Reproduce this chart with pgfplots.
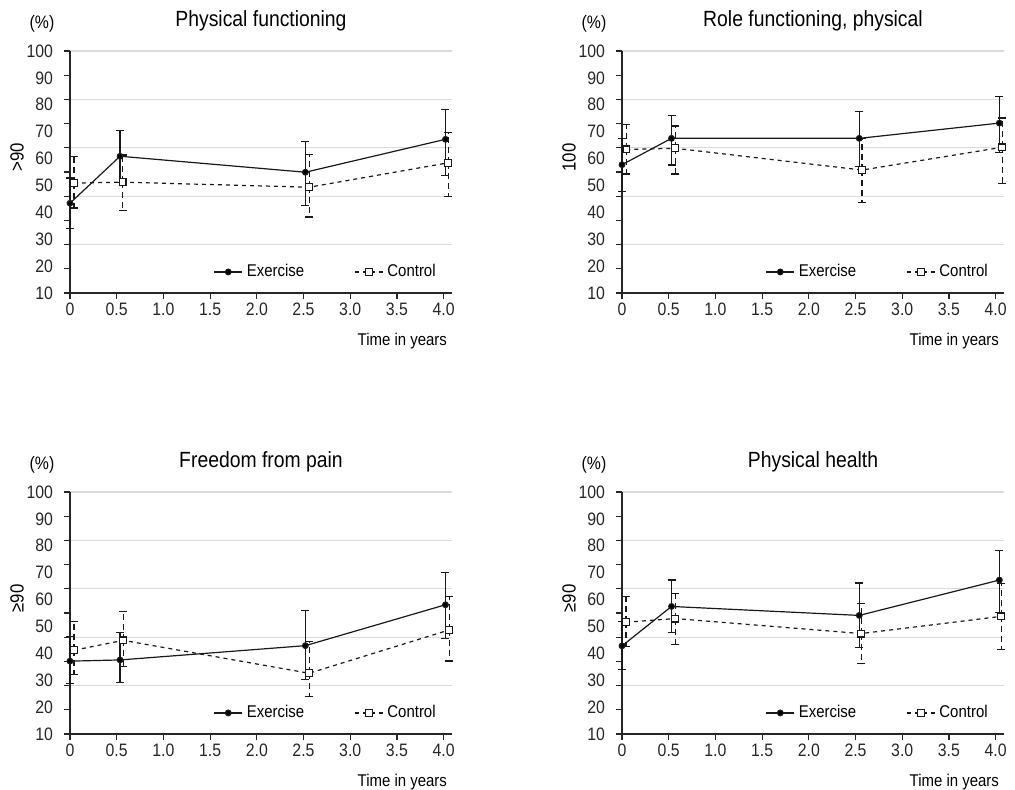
\documentclass[border=0pt]{standalone}
\usepackage{fontspec}
\setmainfont{Liberation Sans}[FakeStretch=0.88]
\usepackage{pgfplots}
\pgfplotsset{compat=1.18}

\pgfplotsset{
  panel/.style={
    scale only axis, width=191pt, height=121pt,
    xmin=0, xmax=4.09, ymin=0, ymax=100,
    clip=false,
    axis x line*=bottom, axis y line*=left,
    axis line style={-, line width=0.7pt, color=black!85},
    xtick={0,0.5,...,4},
    xticklabels={0,0.5,1.0,1.5,2.0,2.5,3.0,3.5,4.0},
    ytick={0,20,...,100}, yticklabels={},
    minor ytick={10,30,...,90},
    ymajorgrids, major grid style={line width=0.6pt, color=black!14},
    extra y ticks={0,11.111,22.222,33.333,44.444,55.556,66.667,77.778,88.889,100},
    extra y tick labels={10,20,30,40,50,60,70,80,90,100},
    extra y tick style={grid=none, major tick length=0pt},
    tick style={line width=0.6pt, color=black!85},
    major tick length=3pt, minor tick length=3pt,
    tick align=outside,
    /pgf/number format/assume math mode=true,
    tick label style={font=\fontsize{9}{10}\selectfont, color=black!85},
    yticklabel style={xshift=-5pt},
    xticklabel style={yshift=1.5pt},
    legend style={at={(axis description cs:0.375,0.087)}, anchor=west,
      draw=none, fill=none, inner sep=0pt, legend columns=2,
      font=\fontsize{8.5}{9}\selectfont,
      /tikz/every even column/.append style={column sep=23pt}},
    legend cell align=left,
    legend image code/.code={\draw[mark repeat=2, mark phase=2, #1] plot coordinates {(0pt,0pt)(7pt,0pt)(14pt,0pt)};},
  },
  ex/.style={black!90, line width=0.6pt, mark=*, mark size=1.4pt,
    mark options={solid, fill=black},
    error bars/.cd, y dir=both, y explicit,
    error bar style={solid, line width=0.6pt, black!90},
    error mark options={solid, mark size=2pt, line width=0.6pt, rotate=90}},
  ct/.style={black!90, line width=0.6pt, dash pattern=on 2pt off 2pt, mark=square*, mark size=1.7pt,
    mark options={solid, fill=white},
    error bars/.cd, y dir=both, y explicit,
    error bar style={dash pattern=on 3pt off 2pt, line width=0.6pt, black!90},
    error mark options={solid, mark size=2pt, line width=0.6pt, rotate=90}},
}

\newcommand{\paneltitle}[1]{\node[font=\fontsize{11}{12}\selectfont] at (rel axis cs:0.5,1) [yshift=15pt] {#1};}
\newcommand{\panelextras}[1]{%
  \node[font=\fontsize{9}{10}\selectfont] at (rel axis cs:0,1) [xshift=-14pt, yshift=13.5pt] {(\%)};
  \node[xshift=-26.5pt, rotate=90, font=\fontsize{9.5}{10}\selectfont] at (rel axis cs:0,0.56) {#1};
  \node[font=\fontsize{8.5}{10}\selectfont, anchor=base east] at (rel axis cs:1,0) [yshift=-26.5pt, xshift=1pt] {Time in years};}

\begin{document}
\begin{tikzpicture}
\useasboundingbox (0,0) rectangle (507.5pt,395pt);

% Panel 1
\begin{axis}[panel, at={(35pt,248.5pt)}, anchor=south west]
\addplot+[ex] table[x=x, y=y, y error plus=ep, y error minus=em] {
x y ep em
0 37.1 10.4 10.3
0.536 56.5 10.8 10.7
2.52 49.9 12.8 13.6
4.02 63.5 12.4 15.1
};
\addplot+[ct] table[x=x, y=y, y error plus=ep, y error minus=em] {
x y ep em
0.043 45.4 11.0 10.3
0.564 45.8 11.2 11.7
2.56 43.7 13.4 12.3
4.05 53.8 12.5 13.8
};
\legend{Exercise, Control}
\paneltitle{Physical functioning}
\panelextras{>90}
\end{axis}

% Panel 2
\begin{axis}[panel, at={(311pt,248.5pt)}, anchor=south west]
\addplot+[ex] table[x=x, y=y, y error plus=ep, y error minus=em] {
x y ep em
0 53.0 11.0 11.0
0.53 63.9 9.6 11.0
2.54 63.9 11.1 11.5
4.04 70.2 11.0 12.0
};
\addplot+[ct] table[x=x, y=y, y error plus=ep, y error minus=em] {
x y ep em
0.046 59.3 10.2 10.1
0.57 59.8 9.2 10.6
2.57 50.8 13.0 13.4
4.07 60.2 12.1 14.9
};
\legend{Exercise, Control}
\paneltitle{Role functioning, physical}
\panelextras{100}
\end{axis}

% Panel 3
\begin{axis}[panel, at={(35pt,28pt)}, anchor=south west]
\addplot+[ex] table[x=x, y=y, y error plus=ep, y error minus=em] {
x y ep em
0 30.1 10.3 9.2
0.536 30.6 11.2 9.2
2.52 36.5 14.5 14.0
4.02 53.4 13.4 14.1
};
\addplot+[ct] table[x=x, y=y, y error plus=ep, y error minus=em] {
x y ep em
0.043 34.6 11.8 10.1
0.57 38.7 12.0 10.8
2.56 25.1 13.1 9.7
4.06 43.0 13.7 12.8
};
\legend{Exercise, Control}
\paneltitle{Freedom from pain}
\panelextras{≥90}
\end{axis}

% Panel 4
\begin{axis}[panel, at={(311pt,28pt)}, anchor=south west]
\addplot+[ex] table[x=x, y=y, y error plus=ep, y error minus=em] {
x y ep em
0 36.4 10.0 9.8
0.53 52.7 10.9 10.9
2.54 49.0 13.4 13.4
4.04 63.6 12.2 13.5
};
\addplot+[ct] table[x=x, y=y, y error plus=ep, y error minus=em] {
x y ep em
0.043 46.2 10.7 10.2
0.57 47.7 10.3 10.7
2.56 41.5 12.5 12.4
4.06 48.6 13.5 13.7
};
\legend{Exercise, Control}
\paneltitle{Physical health}
\panelextras{≥90}
\end{axis}
\end{tikzpicture}
\end{document}
